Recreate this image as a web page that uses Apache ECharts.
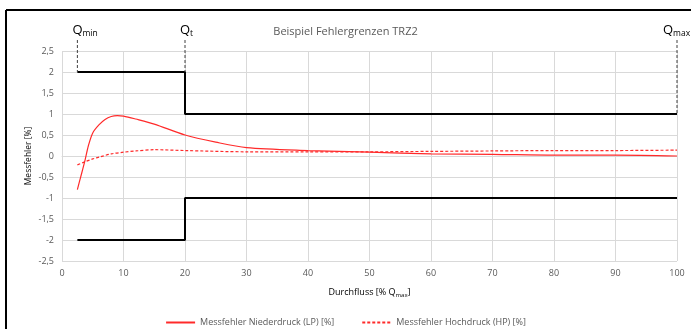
<!DOCTYPE html>
<html>
<head>
<meta charset="utf-8">
<script src="https://cdn.jsdelivr.net/npm/echarts@6/dist/echarts.min.js"></script>
<style>
  html, body { margin: 0; padding: 0; background: #fff; }
  #chart { width: 691px; height: 329px; }
</style>
</head>
<body>
<div id="chart"></div>
<script>
// Messfehler Niederdruck (LP) [%] – x: Durchfluss [% Qmax]
const lpX = [2.5, 3, 3.7, 4.3, 5, 6, 7, 8, 9, 10, 12, 15, 20, 25, 30, 40, 50, 60, 70, 80, 90, 100];
const lpY = [-0.8, -0.52, -0.13, 0.25, 0.55, 0.74, 0.87, 0.94, 0.96, 0.95, 0.88, 0.76, 0.5, 0.33, 0.2, 0.13, 0.09, 0.05, 0.04, 0.02, 0.02, 0.0];
// Messfehler Hochdruck (HP) [%]
const hpX = [2.5, 3.7, 5, 6.2, 8, 10, 12, 15, 20, 30, 40, 50, 60, 70, 80, 90, 100];
const hpY = [-0.21, -0.14, -0.07, -0.02, 0.05, 0.09, 0.12, 0.15, 0.13, 0.1, 0.1, 0.1, 0.11, 0.12, 0.13, 0.13, 0.14];
// Fehlergrenzen
const limitX = [2.5, 20, 20, 100];
const upperY = [2, 2, 1, 1];
const lowerY = [-2, -2, -1, -1];
// Kennpunkte Qmin, Qt, Qmax
const qNames = ['min', 't', 'max'];
const qX = [2.5, 20, 100];
const qY = [2, 2, 1];

const chart = echarts.init(document.getElementById('chart'));
const font = 'Open Sans';
const grey = '#595959';

const pairs = (xs, ys) => xs.map((x, i) => [x, ys[i]]);

const option = {
  backgroundColor: '#fff',
  animation: false,
  textStyle: { fontFamily: font },
  title: {
    text: 'Beispiel Fehlergrenzen TRZ2',
    left: 'center',
    top: 21,
    textStyle: { color: grey, fontSize: 11, fontWeight: 'normal', fontFamily: font },
  },
  grid: { left: 62, right: 14, top: 51, bottom: 68 },
  legend: {
    bottom: -3,
    left: 'center',
    itemWidth: 29,
    itemHeight: 8,
    itemGap: 27,
    itemStyle: { opacity: 0 },
    data: ['Messfehler Niederdruck (LP) [%]', 'Messfehler Hochdruck (HP) [%]'],
    textStyle: { color: grey, fontSize: 9, fontFamily: font },
  },
  xAxis: {
    type: 'value',
    min: 0,
    max: 100,
    interval: 10,
    name: 'Durchfluss [% Q{s|max}]',
    nameLocation: 'middle',
    nameGap: 26,
    nameTextStyle: {
      color: '#000', fontSize: 9, fontFamily: font,
      rich: { s: { fontSize: 6, padding: [5, 0, 0, 0], color: '#000' } },
    },
    axisLine: { show: true, lineStyle: { color: '#d9d9d9' } },
    axisTick: { show: false },
    axisLabel: { color: grey, fontSize: 9, margin: 8 },
    splitLine: { lineStyle: { color: '#d9d9d9' } },
  },
  yAxis: {
    type: 'value',
    min: -2.5,
    max: 2.5,
    interval: 0.5,
    name: 'Messfehler [%]',
    nameLocation: 'middle',
    nameGap: 29,
    nameMoveOverlap: false,
    nameTextStyle: { color: '#000', fontSize: 8.5, fontFamily: font },
    axisLine: { show: false },
    axisTick: { show: false },
    axisLabel: {
      color: grey, fontSize: 9, margin: 8,
      formatter: (v) => String(v).replace('.', ','),
    },
    splitLine: { lineStyle: { color: '#d9d9d9' } },
  },
  graphic: [
    { type: 'line', shape: { x1: 6, y1: 10, x2: 691, y2: 10 }, style: { stroke: '#000', lineWidth: 2 } },
    { type: 'line', shape: { x1: 6, y1: 10, x2: 6, y2: 329 }, style: { stroke: '#000', lineWidth: 2 } },
  ],
  series: [
    {
      name: 'Messfehler Niederdruck (LP) [%]',
      type: 'line',
      data: pairs(lpX, lpY),
      smooth: 0.3,
      symbol: 'none',
      lineStyle: { color: '#ff2a2a', width: 1.2 },
      itemStyle: { color: '#ff2a2a' },
      z: 4,
    },
    {
      name: 'Messfehler Hochdruck (HP) [%]',
      type: 'line',
      data: pairs(hpX, hpY),
      smooth: 0.3,
      symbol: 'none',
      lineStyle: { color: '#ff2a2a', width: 1.2, type: [3, 2] },
      itemStyle: { color: '#ff2a2a' },
      z: 4,
    },
    {
      name: 'Obere Grenze',
      type: 'line',
      data: pairs(limitX, upperY),
      symbol: 'none',
      lineStyle: { color: '#000', width: 2 },
      z: 3,
    },
    {
      name: 'Untere Grenze',
      type: 'line',
      data: pairs(limitX, lowerY),
      symbol: 'none',
      lineStyle: { color: '#000', width: 2 },
      z: 3,
    },
    {
      name: 'Kennpunkte',
      type: 'custom',
      clip: false,
      z: 5,
      data: qX.map((x, i) => [x, qY[i], i]),
      renderItem: (params, api) => {
        const idx = api.value(2);
        const p = api.coord([api.value(0), api.value(1)]);
        const top = api.coord([api.value(0), 2.5])[1] - 11;
        // das letzte Label wird wie in Excel nach links geschoben, damit es ins Bild passt
        const shift = idx === qNames.length - 1 ? 14 : 5;
        return {
          type: 'group',
          children: [
            {
              type: 'line',
              shape: { x1: p[0], y1: top, x2: p[0], y2: p[1] },
              style: { stroke: '#404040', lineWidth: 1, lineDash: [3, 2] },
            },
            {
              type: 'text',
              x: p[0] - shift,
              y: top - 2,
              style: {
                text: '{q|Q}{s|' + qNames[idx] + '}',
                verticalAlign: 'bottom',
                rich: {
                  q: { fontSize: 13, fontFamily: font, fill: '#000', lineHeight: 16 },
                  s: { fontSize: 8.5, fontFamily: font, fill: '#000', lineHeight: 16, padding: [8, 0, 0, 0] },
                },
              },
            },
          ],
        };
      },
    },
  ],
};

chart.setOption(option);
</script>
</body>
</html>
